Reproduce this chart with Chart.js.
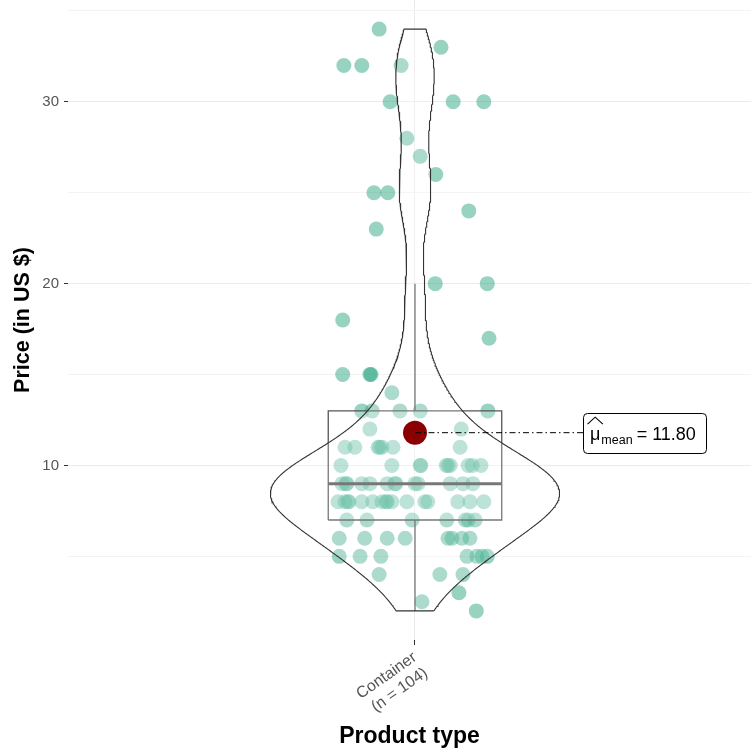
<!DOCTYPE html>
<html>
<head>
<meta charset="utf-8">
<script src="https://cdn.jsdelivr.net/npm/chart.js@4.4.1/dist/chart.umd.min.js"></script>
<style>
  html, body { margin: 0; padding: 0; background: #fff; overflow: hidden; width: 751px; height: 751px; }
  #wrap { width: 751px; height: 751px; }
</style>
</head>
<body>
<div id="wrap"><canvas id="c" width="751" height="751"></canvas></div>
<script>
// Product group shown on the x axis
const category = 'Container';

// Price of each product (US $)
const prices = [
  34, 33, 32, 32, 32, 30, 30, 30, 28, 27, 26, 25, 25, 24, 23, 20, 20, 18, 17,
  15, 15, 15, 14,
  13, 13, 13, 13, 13,
  12, 12,
  11, 11, 11, 11, 11, 11, 11,
  10, 10, 10, 10, 10, 10, 10, 10, 10, 10,
  9, 9, 9, 9, 9, 9, 9, 9, 9, 9, 9, 9, 9,
  8, 8, 8, 8, 8, 8, 8, 8, 8, 8, 8, 8, 8, 8, 8, 8,
  7, 7, 7, 7, 7, 7, 7,
  6, 6, 6, 6, 6, 6, 6, 6,
  5, 5, 5, 5, 5, 5, 5,
  4, 4, 4,
  3, 2.5, 2
];

// Horizontal jitter of each dot around the category position
const jitterX = [
  -0.062, 0.045, -0.123, -0.092, -0.024, -0.043, 0.066, 0.119, -0.014, 0.009, 0.036, -0.071, -0.047, 0.093, -0.067, 0.035, 0.125, -0.125, 0.128,
  -0.125, -0.078, -0.076, -0.040,
  -0.092, -0.074, -0.026, 0.009, 0.126,
  -0.078, 0.080,
  -0.121, -0.104, -0.064, -0.057, -0.038, 0.078, -0.061,
  -0.128, -0.040, 0.009, 0.054, 0.061, 0.092, 0.099, 0.114, 0.010, 0.057,
  -0.126, -0.119, -0.092, -0.078, -0.048, -0.035, 0.000, 0.005, 0.061, 0.083, 0.100, -0.118, -0.033,
  -0.133, -0.121, -0.116, -0.092, -0.073, -0.057, -0.048, -0.040, -0.014, 0.017, 0.022, 0.074, 0.095, 0.119, -0.114, -0.050,
  -0.118, -0.083, -0.005, 0.055, 0.087, 0.092, 0.104,
  -0.131, -0.087, -0.048, -0.017, 0.057, 0.064, 0.081, 0.095,
  -0.131, -0.095, -0.059, 0.090, 0.107, 0.116, 0.125,
  -0.062, 0.043, 0.083,
  0.076, 0.012, 0.106
];

// Gridline positions on the price axis (labels only on multiples of 10)
const yTicks = [5, 10, 15, 20, 25, 30, 35];

// ---- summary statistics ----
const n = prices.length;
const sorted = prices.slice().sort((a, b) => a - b);
const mean = prices.reduce((a, b) => a + b, 0) / n;
const sd = Math.sqrt(prices.reduce((s, v) => s + (v - mean) ** 2, 0) / (n - 1));
function quantile(p) {
  const h = (n - 1) * p, lo = Math.floor(h);
  const hi = Math.min(lo + 1, n - 1);
  return sorted[lo] + (h - lo) * (sorted[hi] - sorted[lo]);
}
const q1 = quantile(0.25), med = quantile(0.5), q3 = quantile(0.75);
const iqr = q3 - q1;
const whiskHi = Math.max(...sorted.filter(v => v <= q3 + 1.5 * iqr));
const whiskLo = Math.min(...sorted.filter(v => v >= q1 - 1.5 * iqr));

// ---- violin outline: gaussian kernel density, trimmed to the data range ----
const bw = 0.9 * Math.min(sd, iqr / 1.34) * Math.pow(n, -0.2);
const gridN = 512;
const lo = sorted[0], hi = sorted[n - 1];
const dens = [];
for (let i = 0; i < gridN; i++) {
  const y = lo + (hi - lo) * i / (gridN - 1);
  let s = 0;
  for (const v of prices) { const z = (y - v) / bw; s += Math.exp(-0.5 * z * z); }
  dens.push({ y, d: s / (n * bw * Math.sqrt(2 * Math.PI)) });
}
const dMax = Math.max(...dens.map(p => p.d));
const violinHalf = 0.25, boxHalf = 0.15;
const violinPts = [];
dens.forEach(p => violinPts.push({ x: 1 + violinHalf * p.d / dMax, y: p.y }));
for (let i = dens.length - 1; i >= 0; i--) violinPts.push({ x: 1 - violinHalf * dens[i].d / dMax, y: dens[i].y });
violinPts.push(violinPts[0]);

const boxPts = [
  { x: 1 - boxHalf, y: q1 }, { x: 1 + boxHalf, y: q1 }, { x: 1 + boxHalf, y: q3 },
  { x: 1 - boxHalf, y: q3 }, { x: 1 - boxHalf, y: q1 }
];

const dots = prices.map((p, i) => ({ x: 1 + jitterX[i], y: p }));

const FONT = '"Liberation Sans", Arial, sans-serif';
const labelX = 1.29;   // left edge of the mean annotation, in category units

// Mean annotation: dashed connector + boxed label
const meanLabel = {
  id: 'meanLabel',
  afterDatasetsDraw(chart) {
    const { ctx, scales: { x, y } } = chart;
    const py = y.getPixelForValue(mean);
    const px = x.getPixelForValue(1);
    const bx = Math.round(x.getPixelForValue(labelX));
    ctx.save();
    ctx.strokeStyle = '#000';
    ctx.lineWidth = 1;
    ctx.setLineDash([6, 3, 1.5, 3]);
    ctx.beginPath(); ctx.moveTo(px, py); ctx.lineTo(bx, py); ctx.stroke();
    ctx.setLineDash([]);

    const big = '18px ' + FONT, small = '12.5px ' + FONT;
    const valueText = mean.toFixed(2);
    ctx.font = big;
    const wMu = ctx.measureText('μ').width;
    const wEq = ctx.measureText('=').width;
    const wVal = ctx.measureText(valueText).width;
    ctx.font = small;
    const wSub = ctx.measureText('mean').width;
    const padL = 7, padR = 10;
    const width = Math.round(padL + wMu + 1 + wSub + 4 + wEq + 5 + wVal + padR);
    const h = 40, top = py - h / 2;

    ctx.fillStyle = '#fff';
    ctx.beginPath();
    ctx.roundRect(bx + 0.5, Math.round(top) + 0.5, width, h, 4);
    ctx.fill();
    ctx.stroke();

    const base = py + 7.5;
    let cx = bx + padL;
    ctx.fillStyle = '#000';
    ctx.textBaseline = 'alphabetic';
    ctx.textAlign = 'left';
    ctx.font = big;
    ctx.fillText('μ', cx, base);
    // wide hat over mu
    ctx.lineWidth = 1.1;
    ctx.beginPath();
    ctx.moveTo(cx - 2.5, base - 16);
    ctx.lineTo(cx + wMu / 2, base - 23);
    ctx.lineTo(cx + wMu + 2.5, base - 16);
    ctx.stroke();
    cx += wMu + 1;
    ctx.font = small;
    ctx.fillText('mean', cx, base + 4);
    cx += wSub + 4;
    ctx.font = big;
    ctx.fillText('=', cx, base);
    cx += wEq + 5;
    ctx.fillText(valueText, cx, base);
    ctx.restore();
  }
};

new Chart(document.getElementById('c'), {
  type: 'scatter',
  data: {
    datasets: [
      { type: 'scatter', data: [{ x: 1, y: mean }], pointRadius: 12, pointHoverRadius: 12,
        backgroundColor: '#8b0000', borderWidth: 0, order: 0 },
      { type: 'line', data: violinPts, borderColor: '#333', borderWidth: 1.1, pointRadius: 0,
        fill: 'shape', backgroundColor: 'rgba(255,255,255,0.2)', tension: 0, order: 1 },
      { type: 'line', data: [{ x: 1 - boxHalf, y: med }, { x: 1 + boxHalf, y: med }],
        borderColor: '#555', borderWidth: 3, pointRadius: 0, fill: false, order: 2 },
      { type: 'line', data: boxPts, borderColor: '#555', borderWidth: 1.3, pointRadius: 0,
        fill: 'shape', backgroundColor: 'rgba(255,255,255,0.2)', tension: 0, order: 3 },
      { type: 'line', data: [{ x: 1, y: q3 }, { x: 1, y: whiskHi }], borderColor: '#555',
        borderWidth: 1.3, pointRadius: 0, fill: false, order: 4 },
      { type: 'line', data: [{ x: 1, y: q1 }, { x: 1, y: whiskLo }], borderColor: '#555',
        borderWidth: 1.3, pointRadius: 0, fill: false, order: 4 },
      { type: 'scatter', data: dots, pointRadius: 7.5, pointHoverRadius: 7.5,
        backgroundColor: 'rgba(27,158,119,0.45)', borderWidth: 0, order: 9 }
    ]
  },
  options: {
    responsive: false,
    animation: false,
    events: [],
    layout: { padding: 0, autoPadding: false },
    plugins: { legend: { display: false }, tooltip: { enabled: false } },
    scales: {
      x: {
        type: 'linear', min: 0.4, max: 1.581,
        afterBuildTicks: ax => { ax.ticks = [{ value: 1 }]; },
        afterFit: ax => { ax.height = 111; ax.paddingLeft = 0; ax.paddingRight = 0; },
        border: { display: false },
        grid: { color: '#ebebeb', lineWidth: 1, tickLength: 5, tickColor: '#333' },
        ticks: {
          callback: () => [category, '(n = ' + n + ')'],
          color: '#555', font: { family: FONT, size: 16 },
          minRotation: 35, maxRotation: 35, autoSkip: false, padding: 3
        },
        title: { display: true, text: 'Product type', color: '#000',
          font: { family: FONT, size: 23, weight: 'bold' }, padding: { top: 0, bottom: 1 } }
      },
      y: {
        type: 'linear', min: 0.4, max: 35.6,
        afterBuildTicks: ax => { ax.ticks = yTicks.map(v => ({ value: v })); },
        afterFit: ax => { ax.width = 68; ax.paddingTop = 0; ax.paddingBottom = 0; },
        border: { display: false },
        grid: {
          color: c => (c.tick && c.tick.value % 10 === 0) ? '#ebebeb' : '#f3f3f3',
          tickColor: c => (c.tick && c.tick.value % 10 === 0) ? '#333' : 'rgba(0,0,0,0)',
          tickLength: 4, lineWidth: 1
        },
        ticks: {
          callback: v => (v % 10 === 0 ? String(v) : ''),
          color: '#555', font: { family: FONT, size: 15 }, padding: 5
        },
        title: { display: true, text: 'Price (in US $)', color: '#000',
          font: { family: FONT, size: 21.5, weight: 'bold' }, padding: { top: 10, bottom: 0 } }
      }
    }
  },
  plugins: [meanLabel]
});
</script>
</body>
</html>
